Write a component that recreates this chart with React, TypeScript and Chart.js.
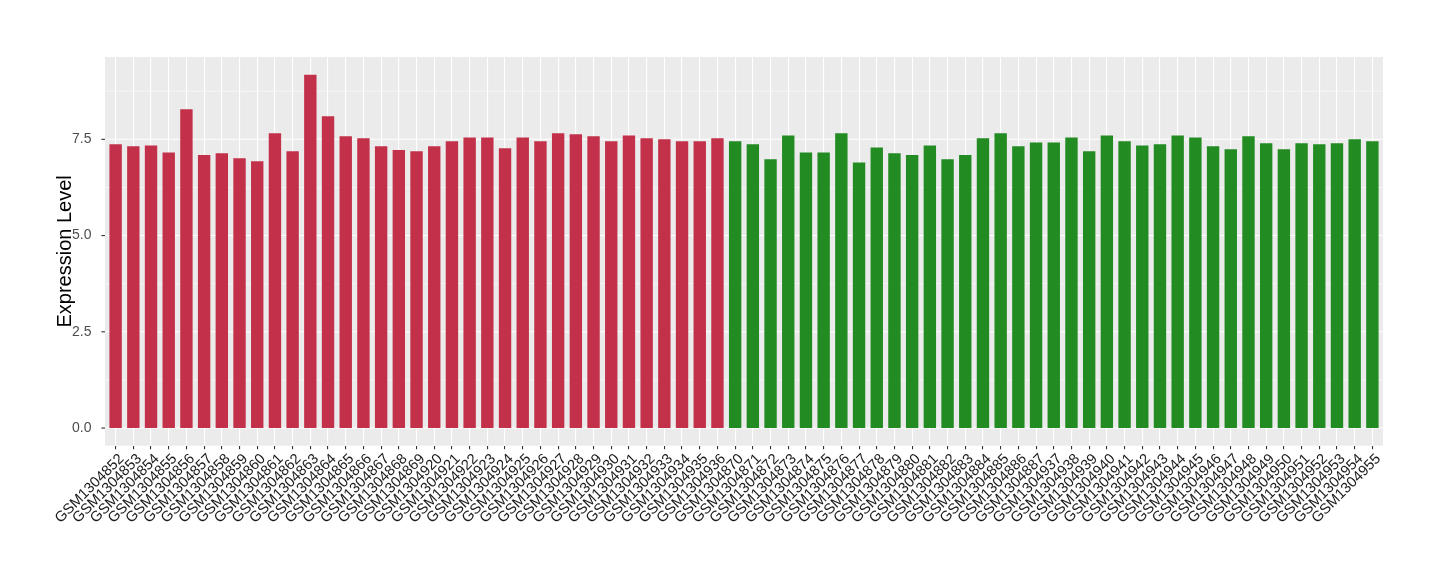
import React, { useEffect, useRef } from "react";
import { Chart, registerables } from "chart.js";

Chart.register(...registerables);

const redSamples = [
  "GSM1304852","GSM1304853","GSM1304854","GSM1304855","GSM1304856","GSM1304857",
  "GSM1304858","GSM1304859","GSM1304860","GSM1304861","GSM1304862","GSM1304863",
  "GSM1304864","GSM1304865","GSM1304866","GSM1304867","GSM1304868","GSM1304869",
  "GSM1304920","GSM1304921","GSM1304922","GSM1304923","GSM1304924","GSM1304925",
  "GSM1304926","GSM1304927","GSM1304928","GSM1304929","GSM1304930","GSM1304931",
  "GSM1304932","GSM1304933","GSM1304934","GSM1304935","GSM1304936",
];
const redValues = [
  7.37, 7.32, 7.34, 7.16, 8.28, 7.09, 7.14, 7.01, 6.93, 7.66, 7.19, 9.18,
  8.10, 7.58, 7.53, 7.32, 7.22, 7.19,
  7.32, 7.45, 7.55, 7.55, 7.27, 7.55, 7.45, 7.66, 7.63, 7.58, 7.45, 7.60,
  7.53, 7.50, 7.45, 7.45, 7.53,
];
const greenSamples = [
  "GSM1304870","GSM1304871","GSM1304872","GSM1304873","GSM1304874","GSM1304875",
  "GSM1304876","GSM1304877","GSM1304878","GSM1304879","GSM1304880","GSM1304881",
  "GSM1304882","GSM1304883","GSM1304884","GSM1304885","GSM1304886","GSM1304887",
  "GSM1304937","GSM1304938","GSM1304939","GSM1304940","GSM1304941","GSM1304942",
  "GSM1304943","GSM1304944","GSM1304945","GSM1304946","GSM1304947","GSM1304948",
  "GSM1304949","GSM1304950","GSM1304951","GSM1304952","GSM1304953","GSM1304954",
  "GSM1304955",
];
const greenValues = [
  7.45, 7.37, 6.98, 7.60, 7.16, 7.16, 7.66, 6.90, 7.29, 7.14, 7.09, 7.34,
  6.98, 7.09, 7.53, 7.66, 7.32, 7.42,
  7.42, 7.55, 7.19, 7.60, 7.45, 7.34, 7.37, 7.60, 7.55, 7.32, 7.24, 7.58,
  7.40, 7.24, 7.40, 7.37, 7.40, 7.50, 7.45,
];
const yTickValues = [0, 1.25, 2.5, 3.75, 5, 6.25, 7.5, 8.75];
const yMajorLabels = [0, 2.5, 5, 7.5];

const RED = "#C3304A";
const GREEN = "#228B22";
const Y_MIN = -0.4585;
const Y_MAX = 9.6385;
const EXPAND = 0.1; // extra discrete expansion (0.6 vs 0.5)
const FONT = "'Liberation Sans', Arial, sans-serif";

export default function App() {
  const ref = useRef<HTMLCanvasElement | null>(null);

  useEffect(() => {
    document.body.style.margin = "0";
    const canvas = ref.current;
    if (!canvas) return;

    const labels = [...redSamples, ...greenSamples];
    const values = [...redValues, ...greenValues];
    const colors = [
      ...redSamples.map(() => RED),
      ...greenSamples.map(() => GREEN),
    ];

    const n = labels.length;
    const panelLeft = 105;
    const panelRight = 1383;
    const unit = (panelRight - panelLeft) / (n + 2 * EXPAND);
    const areaLeft = panelLeft + EXPAND * unit;
    const areaRight = panelRight - EXPAND * unit;

    const panelPlugin = {
      id: "panel",
      beforeDraw(chart: any) {
        const { ctx, chartArea, scales } = chart;
        const ys = scales.y;
        const l = chartArea.left - EXPAND * unit;
        const r = chartArea.right + EXPAND * unit;
        ctx.save();
        ctx.fillStyle = "#EBEBEB";
        ctx.fillRect(l, chartArea.top, r - l, chartArea.bottom - chartArea.top);
        yTickValues.forEach((v) => {
          const major = yMajorLabels.includes(v);
          const y = ys.getPixelForValue(v);
          ctx.strokeStyle = "#FFFFFF";
          ctx.lineWidth = major ? 1.1 : 0.55;
          ctx.beginPath();
          ctx.moveTo(l, y);
          ctx.lineTo(r, y);
          ctx.stroke();
          if (major) {
            ctx.strokeStyle = "#333333";
            ctx.lineWidth = 1.1;
            ctx.beginPath();
            ctx.moveTo(l - 3.6, y);
            ctx.lineTo(l, y);
            ctx.stroke();
          }
        });
        ctx.restore();
      },
    };

    const chart = new Chart(canvas, {
      type: "bar",
      data: {
        labels,
        datasets: [
          {
            data: values,
            backgroundColor: colors,
            borderWidth: 0,
            barPercentage: 0.7,
            categoryPercentage: 1,
          },
        ],
      },
      options: {
        animation: false,
        responsive: false,
        maintainAspectRatio: false,
        layout: {
          padding: { top: 57, right: 1440 - areaRight, left: 48, bottom: 0 },
        },
        plugins: {
          legend: { display: false },
          tooltip: { enabled: false },
        },
        scales: {
          x: {
            type: "category",
            offset: true,
            grid: {
              offset: false,
              color: "#FFFFFF",
              lineWidth: 1.1,
              drawTicks: true,
              tickLength: 3.6,
              tickColor: "#333333",
              tickWidth: 1.1,
            },
            border: { display: false },
            ticks: {
              autoSkip: false,
              maxRotation: 45,
              minRotation: 45,
              padding: 1,
              labelOffset: 6,
              color: "#1a1a1a",
              font: { family: FONT, size: 14.7 },
            },
            afterFit(scale: any) {
              scale.height = 580 - 445.7;
            },
          },
          y: {
            type: "linear",
            min: Y_MIN,
            max: Y_MAX,
            grid: { display: false },
            border: { display: false },
            afterBuildTicks(scale: any) {
              scale.ticks = yTickValues.map((v) => ({ value: v }));
            },
            ticks: {
              padding: 5.5 + (areaLeft - panelLeft),
              color: "#4D4D4D",
              font: { family: FONT, size: 14 },
              callback: (v: any) =>
                yMajorLabels.includes(Number(v)) ? Number(v).toFixed(1) : "",
            },
            title: {
              display: true,
              text: "Expression Level",
              color: "#000000",
              padding: { top: 5, bottom: 0 },
              font: { family: FONT, size: 20 },
            },
            afterFit(scale: any) {
              scale.width = areaLeft - 48;
            },
          },
        },
      },
      plugins: [panelPlugin],
    });

    return () => chart.destroy();
  }, []);

  return (
    <div style={{ width: 1440, height: 580, background: "#FFFFFF" }}>
      <canvas ref={ref} width={1440} height={580} style={{ display: "block" }} />
    </div>
  );
}
